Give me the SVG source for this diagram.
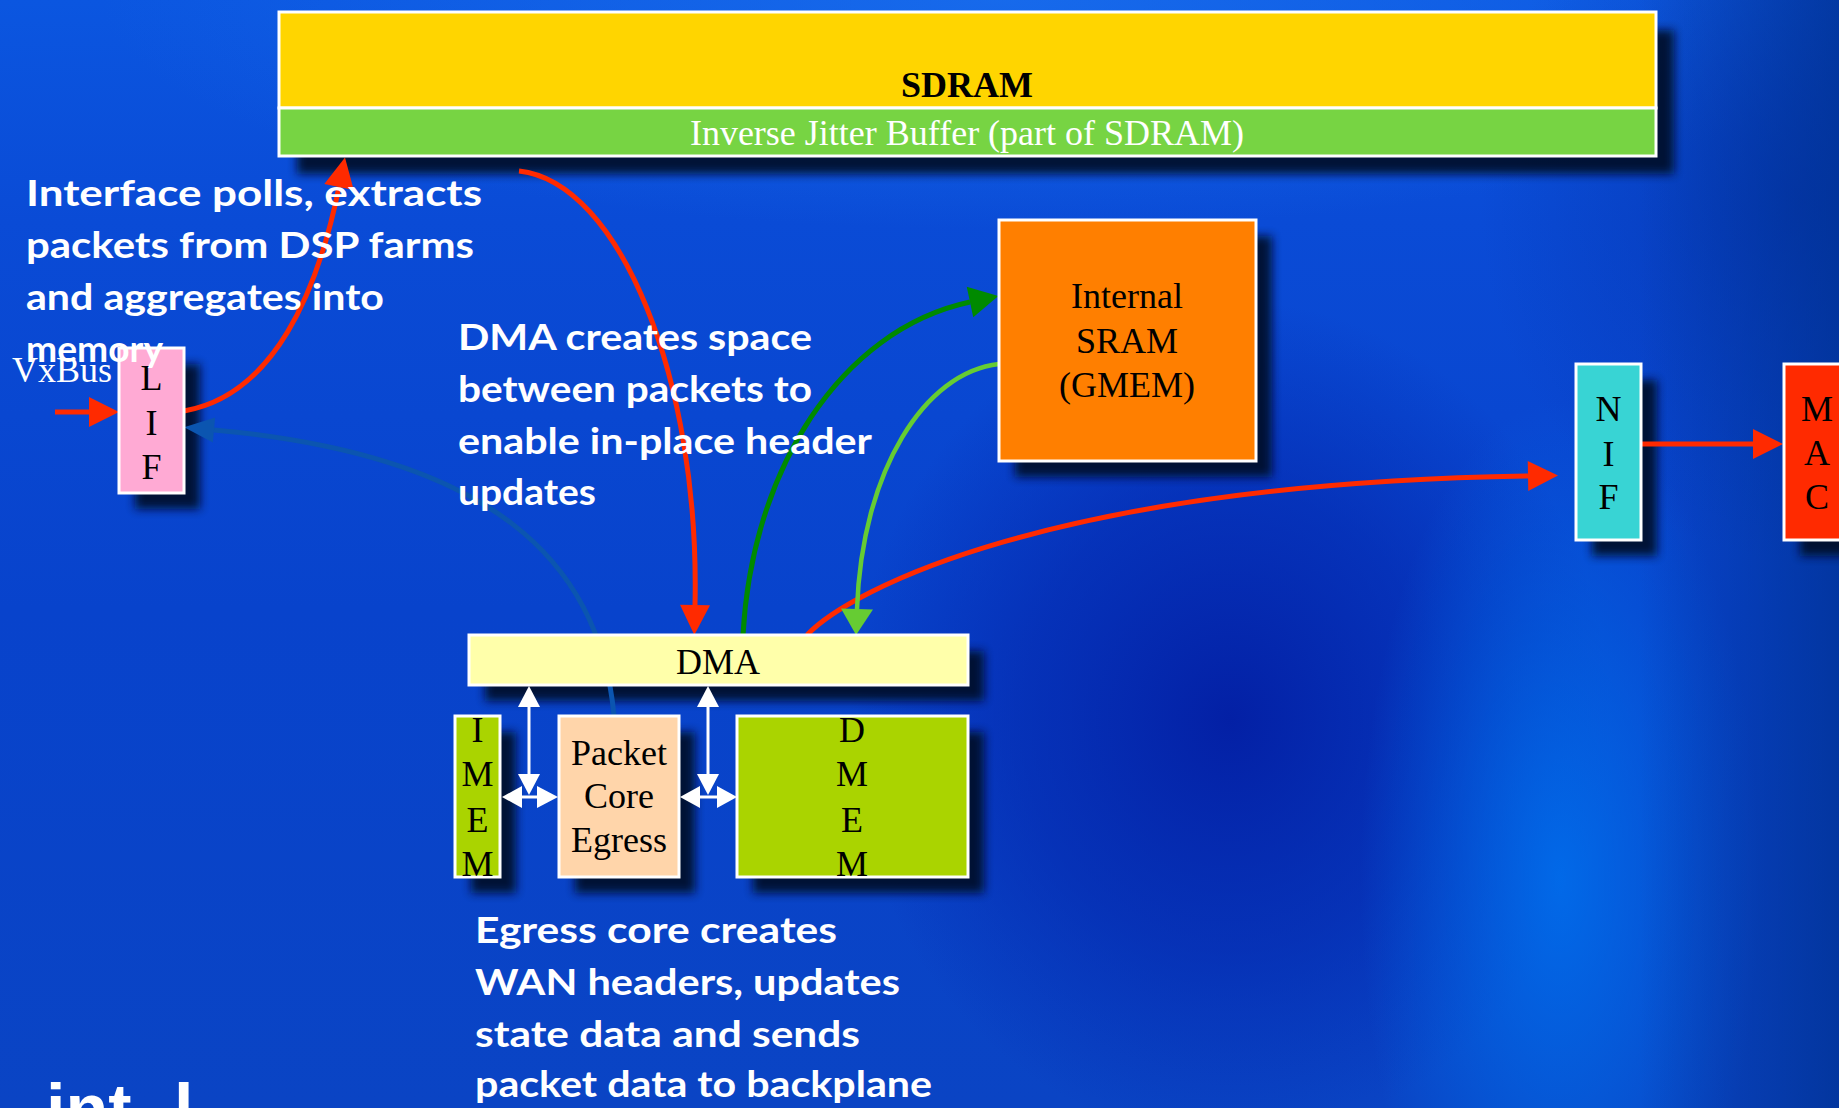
<svg xmlns="http://www.w3.org/2000/svg" width="1839" height="1108" viewBox="0 0 1839 1108">
  <defs>
    <linearGradient id="bgBase" x1="0" y1="0" x2="0" y2="1">
      <stop offset="0" stop-color="#0B56E0"/>
      <stop offset="0.2" stop-color="#0A4BD6"/>
      <stop offset="0.55" stop-color="#0843CC"/>
      <stop offset="1" stop-color="#0A44C4"/>
    </linearGradient>
    <radialGradient id="bgTop" cx="0" cy="0" r="1" gradientUnits="userSpaceOnUse" gradientTransform="translate(1000 0) scale(900 230)">
      <stop offset="0" stop-color="#1C72F0" stop-opacity="0.7"/>
      <stop offset="1" stop-color="#1C72F0" stop-opacity="0"/>
    </radialGradient>
    <radialGradient id="bgDark" cx="0" cy="0" r="1" gradientUnits="userSpaceOnUse" gradientTransform="translate(1230 720) scale(380 420)">
      <stop offset="0" stop-color="#031EA3" stop-opacity="0.95"/>
      <stop offset="0.55" stop-color="#0426AC" stop-opacity="0.6"/>
      <stop offset="1" stop-color="#0426AC" stop-opacity="0"/>
    </radialGradient>
    <radialGradient id="bgGlow" cx="0" cy="0" r="1" gradientUnits="userSpaceOnUse" gradientTransform="translate(1560 880) scale(200 480)">
      <stop offset="0" stop-color="#0070EE" stop-opacity="0.85"/>
      <stop offset="1" stop-color="#0070EE" stop-opacity="0"/>
    </radialGradient>
    <radialGradient id="bgCorner" cx="0" cy="0" r="1" gradientUnits="userSpaceOnUse" gradientTransform="translate(1800 200) scale(320 360)">
      <stop offset="0" stop-color="#0432AA" stop-opacity="0.7"/>
      <stop offset="1" stop-color="#0432AA" stop-opacity="0"/>
    </radialGradient>
    <linearGradient id="bgRight" gradientUnits="userSpaceOnUse" x1="1640" y1="0" x2="1839" y2="0">
      <stop offset="0" stop-color="#00308F" stop-opacity="0"/>
      <stop offset="1" stop-color="#00308F" stop-opacity="0.7"/>
    </linearGradient>

    <filter id="soft" x="-30%" y="-30%" width="160%" height="160%">
      <feGaussianBlur stdDeviation="5"/>
    </filter>

    <marker id="ahRed" markerUnits="userSpaceOnUse" markerWidth="32" markerHeight="32" refX="0" refY="15" orient="auto" overflow="visible">
      <path d="M0,0 L30,15 L0,30 z" fill="#FF2A00"/>
    </marker>
    <marker id="ahGreen" markerUnits="userSpaceOnUse" markerWidth="32" markerHeight="32" refX="0" refY="15.5" orient="auto" overflow="visible">
      <path d="M0,0 L29,15.5 L0,31 z" fill="#008A00"/>
    </marker>
    <marker id="ahLime" markerUnits="userSpaceOnUse" markerWidth="32" markerHeight="32" refX="0" refY="16" orient="auto" overflow="visible">
      <path d="M0,0 L26,16 L0,32 z" fill="#66CC33"/>
    </marker>
    <marker id="ahBlue" markerUnits="userSpaceOnUse" markerWidth="32" markerHeight="32" refX="0" refY="12.5" orient="auto" overflow="visible">
      <path d="M0,0 L30,12.5 L0,25 z" fill="#0B55B0"/>
    </marker>
  </defs>

  <style>
    .box { stroke: #ffffff; stroke-width: 3; }
    .sh { fill: #000A26; filter: url(#soft); opacity: 0.9; }
    .serif { font-family: 'Liberation Serif', 'Times New Roman', serif; font-size: 36px; fill: #000000; }
    .mid { text-anchor: middle; }
    .note { font-family: 'Comic Sans MS', Lato, 'DejaVu Sans', sans-serif; font-weight: 700; font-size: 36px; fill: #ffffff; }
    .wire { fill: none; stroke-linecap: butt; }
    .red { stroke: #FF2A00; stroke-width: 5; }
    .white { stroke: #ffffff; stroke-width: 3; fill: none; }
    .whead { fill: #ffffff; }
  </style>

  <!-- background -->
  <rect x="0" y="0" width="1839" height="1108" fill="url(#bgBase)"/>
  <rect x="0" y="0" width="1839" height="1108" fill="url(#bgTop)"/>
  <rect x="0" y="0" width="1839" height="1108" fill="url(#bgDark)"/>
  <rect x="0" y="0" width="1839" height="1108" fill="url(#bgGlow)"/>
  <rect x="0" y="0" width="1839" height="1108" fill="url(#bgCorner)"/>
  <rect x="0" y="0" width="1839" height="1108" fill="url(#bgRight)"/>

  <!-- drop shadows behind every box -->
  <g id="shadows">
    <rect class="sh" x="297" y="30" width="1377" height="144"/>
    <rect class="sh" x="135" y="364" width="65" height="145"/>
    <rect class="sh" x="1015" y="236" width="257" height="241"/>
    <rect class="sh" x="1592" y="380" width="65" height="176"/>
    <rect class="sh" x="1800" y="380" width="70" height="176"/>
    <rect class="sh" x="485" y="651" width="499" height="50"/>
    <rect class="sh" x="471" y="732" width="45" height="161"/>
    <rect class="sh" x="575" y="732" width="120" height="161"/>
    <rect class="sh" x="753" y="732" width="231" height="161"/>
  </g>

  <!-- connectors -->
  <g id="connectors">
    <path class="wire red" d="M55,412 L89,412" marker-end="url(#ahRed)"/>
    <path class="wire red" d="M184,411 C275,395 318,290 339,187" marker-end="url(#ahRed)"/>
    <path class="wire red" d="M519,171 C620,182 700,380 695,605" marker-end="url(#ahRed)"/>
    <path class="wire red" d="M807,635 C850,590 1050,484 1528,476" marker-end="url(#ahRed)"/>
    <path class="wire red" d="M1641,444 L1753,444" marker-end="url(#ahRed)"/>
    <path class="wire" stroke="#008A00" stroke-width="5" d="M743,635 C752,470 840,330 970,302" marker-end="url(#ahGreen)"/>
    <path class="wire" stroke="#66CC33" stroke-width="4.5" d="M999,364 C925,372 862,470 857,609" marker-end="url(#ahLime)"/>
    <path class="wire" stroke="#0B55B0" stroke-width="5" d="M614,716 C600,560 490,455 214,430" marker-end="url(#ahBlue)"/>

    <!-- DMA / IMEM / core / DMEM buses -->
    <line class="white" x1="529" y1="705" x2="529" y2="776"/>
    <line class="white" x1="520" y1="797" x2="539" y2="797"/>
    <polygon class="whead" points="529,686 518,707 540,707"/>
    <polygon class="whead" points="529,795 518,774 540,774"/>
    <polygon class="whead" points="502,797 522,786 522,808"/>
    <polygon class="whead" points="558,797 537,786 537,808"/>

    <line class="white" x1="708" y1="705" x2="708" y2="776"/>
    <line class="white" x1="698" y1="797" x2="719" y2="797"/>
    <polygon class="whead" points="708,686 697,707 719,707"/>
    <polygon class="whead" points="708,795 697,774 719,774"/>
    <polygon class="whead" points="680,797 700,786 700,808"/>
    <polygon class="whead" points="737,797 717,786 717,808"/>
  </g>

  <!-- nodes -->
  <g id="sdram">
    <rect class="box" x="279" y="12" width="1377" height="96" fill="#FFD500"/>
    <text class="serif mid" x="967" y="97" font-weight="700">SDRAM</text>
  </g>
  <g id="jitter-buffer">
    <rect class="box" x="279" y="108" width="1377" height="48" fill="#77D443"/>
    <text class="serif mid" x="967" y="145" style="fill:#ffffff">Inverse Jitter Buffer (part of SDRAM)</text>
  </g>

  <g id="lif">
    <rect class="box" x="119" y="348" width="65" height="145" fill="#FFAAD4"/>
    <text class="serif mid" x="151.5" y="390">L</text>
    <text class="serif mid" x="151.5" y="435">I</text>
    <text class="serif mid" x="151.5" y="479">F</text>
  </g>

  <g id="sram">
    <rect class="box" x="999" y="220" width="257" height="241" fill="#FF7F00"/>
    <text class="serif mid" x="1127" y="308">Internal</text>
    <text class="serif mid" x="1127" y="353">SRAM</text>
    <text class="serif mid" x="1127" y="397">(GMEM)</text>
  </g>

  <g id="nif">
    <rect class="box" x="1576" y="364" width="65" height="176" fill="#38D4D4"/>
    <text class="serif mid" x="1608.5" y="421">N</text>
    <text class="serif mid" x="1608.5" y="466">I</text>
    <text class="serif mid" x="1608.5" y="509">F</text>
  </g>

  <g id="mac">
    <rect class="box" x="1784" y="364" width="70" height="176" fill="#FF2A00"/>
    <text class="serif mid" x="1817" y="421">M</text>
    <text class="serif mid" x="1817" y="465">A</text>
    <text class="serif mid" x="1817" y="509">C</text>
  </g>

  <g id="dma">
    <rect class="box" x="469" y="635" width="499" height="50" fill="#FFFFAA"/>
    <text class="serif mid" x="718" y="674">DMA</text>
  </g>

  <g id="imem">
    <rect class="box" x="455" y="716" width="45" height="161" fill="#AAD400"/>
    <text class="serif mid" x="477.5" y="742">I</text>
    <text class="serif mid" x="477.5" y="786">M</text>
    <text class="serif mid" x="477.5" y="832">E</text>
    <text class="serif mid" x="477.5" y="876">M</text>
  </g>

  <g id="packet-core">
    <rect class="box" x="559" y="716" width="120" height="161" fill="#FFD5AA"/>
    <text class="serif mid" x="619" y="765">Packet</text>
    <text class="serif mid" x="619" y="808">Core</text>
    <text class="serif mid" x="619" y="852">Egress</text>
  </g>

  <g id="dmem">
    <rect class="box" x="737" y="716" width="231" height="161" fill="#AAD400"/>
    <text class="serif mid" x="852" y="742">D</text>
    <text class="serif mid" x="852" y="786">M</text>
    <text class="serif mid" x="852" y="832">E</text>
    <text class="serif mid" x="852" y="876">M</text>
  </g>

  <!-- labels -->
  <g id="labels">
    <text class="serif" x="12" y="382" style="fill:#ffffff">VxBus</text>

    <text class="note" x="26" y="206" textLength="456" lengthAdjust="spacingAndGlyphs">Interface polls, extracts</text>
    <text class="note" x="26" y="258" textLength="448" lengthAdjust="spacingAndGlyphs">packets from DSP farms</text>
    <text class="note" x="26" y="310" textLength="358" lengthAdjust="spacingAndGlyphs">and aggregates into</text>
    <text class="note" x="26" y="362" textLength="137" lengthAdjust="spacingAndGlyphs">memory</text>

    <text class="note" x="458" y="350" textLength="354" lengthAdjust="spacingAndGlyphs">DMA creates space</text>
    <text class="note" x="458" y="402" textLength="354" lengthAdjust="spacingAndGlyphs">between packets to</text>
    <text class="note" x="458" y="454" textLength="414" lengthAdjust="spacingAndGlyphs">enable in-place header</text>
    <text class="note" x="458" y="505" textLength="138" lengthAdjust="spacingAndGlyphs">updates</text>

    <text class="note" x="475" y="943" textLength="362" lengthAdjust="spacingAndGlyphs">Egress core creates</text>
    <text class="note" x="475" y="995" textLength="425" lengthAdjust="spacingAndGlyphs">WAN headers, updates</text>
    <text class="note" x="475" y="1047" textLength="385" lengthAdjust="spacingAndGlyphs">state data and sends</text>
    <text class="note" x="475" y="1097" textLength="457" lengthAdjust="spacingAndGlyphs">packet data to backplane</text>

    <text x="46" y="1133" font-family="'Liberation Sans', Arial, sans-serif" font-weight="700" font-size="70" fill="#ffffff">int</text>
    <text x="174" y="1133" font-family="'Liberation Sans', Arial, sans-serif" font-weight="700" font-size="70" fill="#ffffff">l</text>
  </g>
</svg>
